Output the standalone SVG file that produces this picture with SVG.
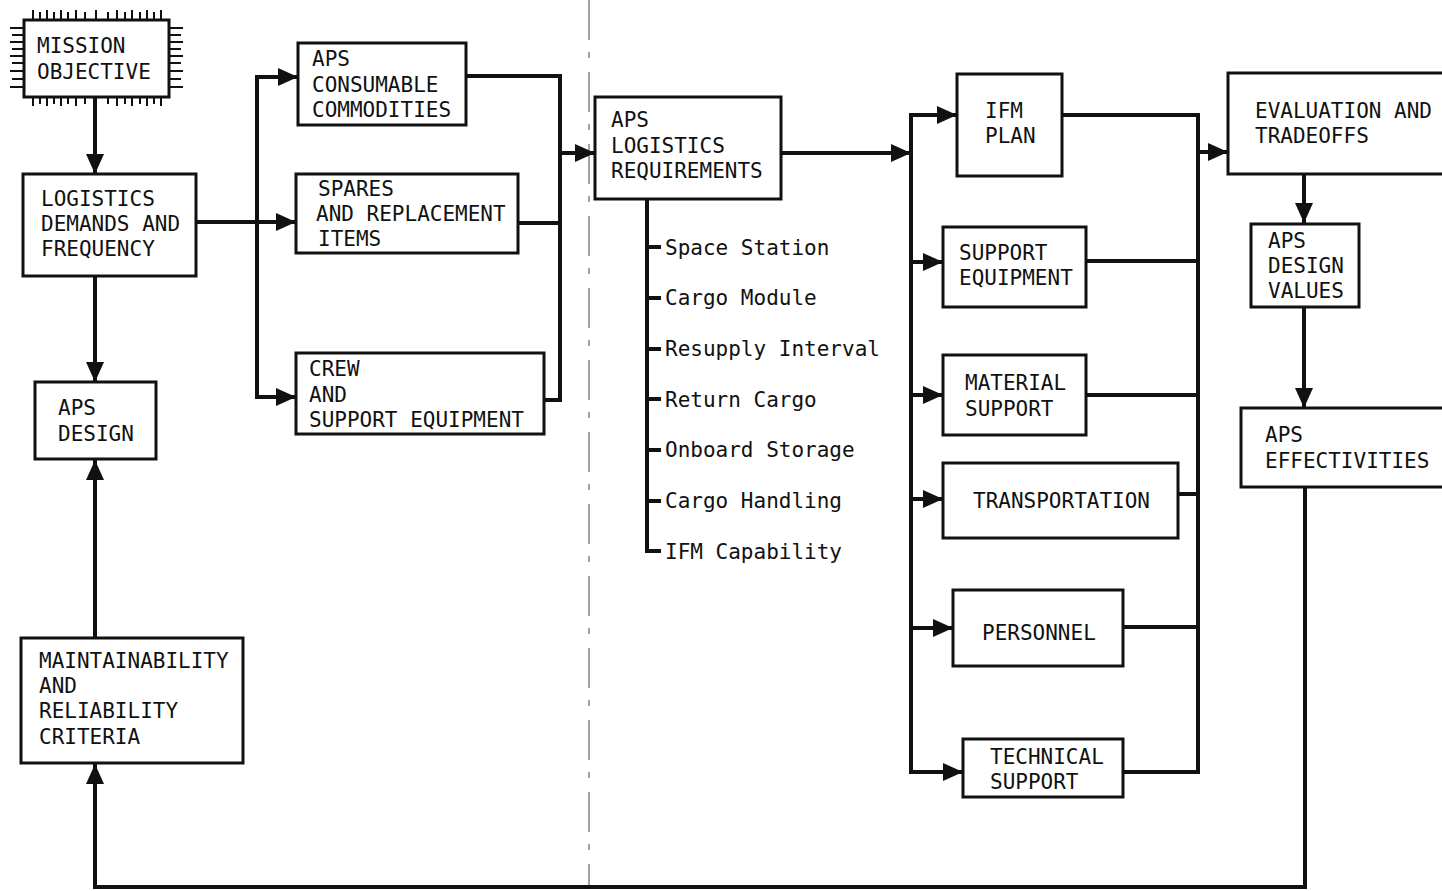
<svg xmlns="http://www.w3.org/2000/svg" width="1442" height="891" viewBox="0 0 1442 891">
<style>
.box{fill:#fff;stroke:#111;stroke-width:3}
.t{font-family:"DejaVu Sans Mono","Liberation Mono",monospace;font-size:21px;fill:#111}
.c{fill:none;stroke:#111;stroke-width:4}
.a{fill:none;stroke:#111;stroke-width:4;marker-end:url(#ah)}
.tick{stroke:#111;stroke-width:2}
</style>
<defs>
<marker id="ah" viewBox="0 0 20 18" refX="20" refY="9" markerWidth="20" markerHeight="18" markerUnits="userSpaceOnUse" orient="auto">
<path d="M0,0 L20,9 L0,18 z" fill="#111"/>
</marker>
</defs>
<rect width="1442" height="891" fill="#fff"/>
<path d="M589,0 V885" stroke="#666" stroke-width="1.2" stroke-dasharray="40,12,6,14" fill="none"/>
<g id="connectors">
<path class="a" d="M95,97 V174"/>
<path class="a" d="M95,276 V382"/>
<path class="a" d="M95,638 V460"/>
<path class="a" d="M1305,487 V887 H95 V764"/>
<path class="a" d="M196,222 H296"/>
<path class="c" d="M257,75 V399"/>
<path class="a" d="M255,77 H298"/>
<path class="a" d="M255,397 H296"/>
<path class="c" d="M467,76 H562"/>
<path class="c" d="M518,223 H562"/>
<path class="c" d="M544,400 H562"/>
<path class="c" d="M560,74 V402"/>
<path class="a" d="M560,153 H595"/>
<path class="a" d="M781,153 H911"/>
<path class="c" d="M911,113 V774"/>
<path class="a" d="M909,115 H957"/>
<path class="a" d="M909,262 H943"/>
<path class="a" d="M909,395 H943"/>
<path class="a" d="M909,499 H943"/>
<path class="a" d="M909,628 H953"/>
<path class="a" d="M909,772 H963"/>
<path class="c" d="M1062,115 H1200"/>
<path class="c" d="M1086,261 H1200"/>
<path class="c" d="M1086,395 H1200"/>
<path class="c" d="M1178,494 H1200"/>
<path class="c" d="M1123,627 H1200"/>
<path class="c" d="M1123,772 H1200"/>
<path class="c" d="M1198,113 V774"/>
<path class="a" d="M1198,152 H1228"/>
<path class="a" d="M1304,174 V223"/>
<path class="a" d="M1304,307 V408"/>
</g>
<g id="mission-objective">
<path class="tick" d="M33,10V20M40,12V20M47,10V20M54,12V20M61,10V20M68,12V20M76,10V20M85,12V20M96,10V20M108,12V20M117,10V20M125,12V20M132,10V20M140,12V20M147,10V20M154,12V20M161,10V20
M33,97V106M40,97V104M47,97V106M54,97V104M61,97V106M68,97V104M76,97V106M85,97V104M96,97V106M108,97V104M117,97V106M125,97V104M132,97V106M140,97V104M147,97V106M154,97V104M161,97V106
M10,28H24M12,35H24M10,42H24M12,49H24M10,56H24M12,63H24M10,71H24M12,79H24M10,87H24
M169,28H183M169,35H181M169,42H183M169,49H181M169,56H183M169,63H181M169,71H183M169,79H181M169,87H183"/>
<rect class="box" x="24" y="20" width="145" height="77"/>
<text class="t" x="37" y="53">MISSION</text>
<text class="t" x="37" y="79">OBJECTIVE</text>
</g>
<g id="logistics-demands">
<rect class="box" x="23" y="174" width="173" height="102"/>
<text class="t" x="41" y="206">LOGISTICS</text>
<text class="t" x="41" y="231">DEMANDS AND</text>
<text class="t" x="41" y="256">FREQUENCY</text>
</g>
<g id="aps-design">
<rect class="box" x="35" y="382" width="121" height="77"/>
<text class="t" x="58" y="415">APS</text>
<text class="t" x="58" y="441">DESIGN</text>
</g>
<g id="maintainability">
<rect class="box" x="21" y="638" width="222" height="125"/>
<text class="t" x="39" y="668">MAINTAINABILITY</text>
<text class="t" x="39" y="693">AND</text>
<text class="t" x="39" y="718">RELIABILITY</text>
<text class="t" x="39" y="744">CRITERIA</text>
</g>
<g id="consumables">
<rect class="box" x="298" y="43" width="168" height="82"/>
<text class="t" x="312" y="66">APS</text>
<text class="t" x="312" y="92">CONSUMABLE</text>
<text class="t" x="312" y="117">COMMODITIES</text>
</g>
<g id="spares">
<rect class="box" x="296" y="174" width="222" height="79"/>
<text class="t" x="318" y="196">SPARES</text>
<text class="t" x="316" y="221">AND REPLACEMENT</text>
<text class="t" x="318" y="246">ITEMS</text>
</g>
<g id="crew">
<rect class="box" x="296" y="353" width="248" height="81"/>
<text class="t" x="309" y="376">CREW</text>
<text class="t" x="309" y="402">AND</text>
<text class="t" x="309" y="427">SUPPORT EQUIPMENT</text>
</g>
<g id="aps-logistics-requirements">
<rect class="box" x="595" y="97" width="186" height="102"/>
<text class="t" x="611" y="127">APS</text>
<text class="t" x="611" y="153">LOGISTICS</text>
<text class="t" x="611" y="178">REQUIREMENTS</text>
<path fill="none" stroke="#111" stroke-width="4" d="M647,199 V553 M647,247 H661 M647,298 H661 M647,349 H661 M647,399 H661 M647,450 H661 M647,501 H661 M645,551 H661"/>
<text class="t" x="665" y="255">Space Station</text>
<text class="t" x="665" y="305">Cargo Module</text>
<text class="t" x="665" y="356">Resupply Interval</text>
<text class="t" x="665" y="407">Return Cargo</text>
<text class="t" x="665" y="457">Onboard Storage</text>
<text class="t" x="665" y="508">Cargo Handling</text>
<text class="t" x="665" y="559">IFM Capability</text>
</g>
<g id="ifm-plan">
<rect class="box" x="957" y="74" width="105" height="102"/>
<text class="t" x="985" y="118">IFM</text>
<text class="t" x="985" y="143">PLAN</text>
</g>
<g id="support-equipment">
<rect class="box" x="943" y="227" width="143" height="80"/>
<text class="t" x="959" y="260">SUPPORT</text>
<text class="t" x="959" y="285">EQUIPMENT</text>
</g>
<g id="material-support">
<rect class="box" x="943" y="355" width="143" height="80"/>
<text class="t" x="965" y="390">MATERIAL</text>
<text class="t" x="965" y="416">SUPPORT</text>
</g>
<g id="transportation">
<rect class="box" x="943" y="463" width="235" height="75"/>
<text class="t" x="973" y="508">TRANSPORTATION</text>
</g>
<g id="personnel">
<rect class="box" x="953" y="590" width="170" height="76"/>
<text class="t" x="982" y="640">PERSONNEL</text>
</g>
<g id="technical-support">
<rect class="box" x="963" y="739" width="160" height="58"/>
<text class="t" x="990" y="764">TECHNICAL</text>
<text class="t" x="990" y="789">SUPPORT</text>
</g>
<g id="evaluation">
<rect class="box" x="1228" y="73" width="240" height="101"/>
<text class="t" x="1255" y="118">EVALUATION AND</text>
<text class="t" x="1255" y="143">TRADEOFFS</text>
</g>
<g id="aps-design-values">
<rect class="box" x="1251" y="224" width="108" height="83"/>
<text class="t" x="1268" y="248">APS</text>
<text class="t" x="1268" y="273">DESIGN</text>
<text class="t" x="1268" y="298">VALUES</text>
</g>
<g id="aps-effectivities">
<rect class="box" x="1241" y="408" width="230" height="79"/>
<text class="t" x="1265" y="442">APS</text>
<text class="t" x="1265" y="468">EFFECTIVITIES</text>
</g>
</svg>
